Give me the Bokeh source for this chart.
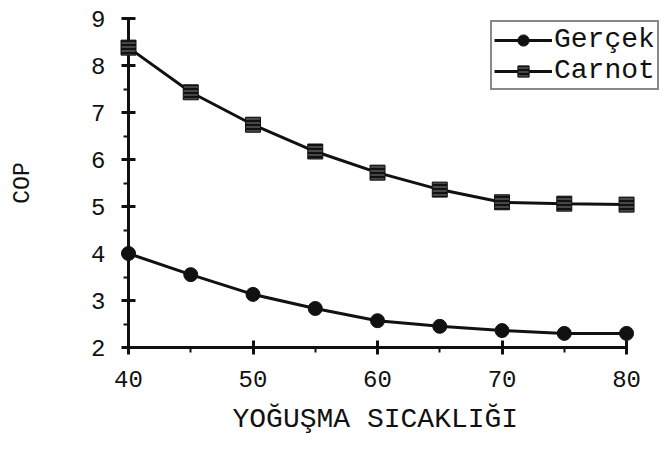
from bokeh.plotting import figure
from bokeh.models import Range1d, SingleIntervalTicker, Legend, LegendItem, Title
from bokeh.embed import file_html
from bokeh.resources import INLINE

# Data
temps = [40, 45, 50, 55, 60, 65, 70, 75, 80]
cop_gercek = [4.00, 3.55, 3.13, 2.83, 2.57, 2.45, 2.36, 2.30, 2.30]
cop_carnot = [8.38, 7.43, 6.74, 6.17, 5.72, 5.36, 5.09, 5.06, 5.04]
series_names = ["Gerçek", "Carnot"]
x_title = "YOĞUŞMA SICAKLIĞI"
y_title = "COP"

FONT = "Liberation Mono"
INK = "#111111"

# frame spans 128..670 px horizontally; x=40..80 occupies 128..626
p = figure(
    width=671, height=449,
    x_range=Range1d(40, 83.53), y_range=Range1d(2, 9),
    output_backend="svg", toolbar_location=None,
    min_border_left=128, min_border_right=1,
    min_border_top=18, min_border_bottom=102,
)
p.outline_line_color = None
p.grid.visible = False
p.background_fill_color = "white"
p.border_fill_color = "white"

# Axes
p.xaxis.ticker = SingleIntervalTicker(interval=10, num_minor_ticks=2)
p.yaxis.ticker = SingleIntervalTicker(interval=1, num_minor_ticks=2)
p.xaxis.bounds = (40, 80)
for ax in (p.xaxis, p.yaxis):
    ax.axis_line_width = 3
    ax.axis_line_color = INK
    ax.major_tick_line_width = 3
    ax.major_tick_line_color = INK
    ax.minor_tick_line_width = 2
    ax.minor_tick_line_color = INK
    ax.major_tick_in = 7
    ax.major_tick_out = 7
    ax.minor_tick_in = 0
    ax.minor_tick_out = 5
    ax.major_label_text_font = FONT
    ax.major_label_text_font_size = "24px"
    ax.major_label_text_color = INK
    ax.axis_label_text_font = FONT
    ax.axis_label_text_font_style = "normal"
    ax.axis_label_text_color = INK

p.xaxis.major_label_standoff = 16

p.yaxis.axis_label = y_title
p.yaxis.axis_label_text_font_size = "23px"
p.yaxis.major_label_standoff = 16
p.yaxis.axis_label_standoff = 52

# x-axis title placed under the 40..80 span (frame is wider for the legend)
xt = Title(text=x_title, align="left", offset=104, standoff=25,
           text_font=FONT, text_font_size="28px", text_font_style="normal",
           text_color=INK)
p.add_layout(xt, "below")

# Series
l1 = p.line(temps, cop_gercek, line_color=INK, line_width=3, level="overlay")
s1 = p.scatter(temps, cop_gercek, marker="circle", size=14, fill_color=INK,
               line_color=INK, line_width=1, level="overlay")
l2 = p.line(temps, cop_carnot, line_color=INK, line_width=3, level="overlay")
s2 = p.scatter(temps, cop_carnot, marker="square", size=15, fill_color=INK,
               line_color=INK, line_width=1, hatch_pattern="-", hatch_color="white",
               hatch_alpha=0.45, hatch_scale=4, hatch_weight=1, level="overlay")

legend = Legend(
    items=[LegendItem(label=series_names[0], renderers=[l1, s1]),
           LegendItem(label=series_names[1], renderers=[l2, s2])],
    location=(362, 257),
    border_line_color=INK, border_line_width=2,
    background_fill_color="white", background_fill_alpha=1,
    label_text_font=FONT, label_text_font_size="28px", label_text_color=INK,
    glyph_width=58, glyph_height=28, label_standoff=2,
    spacing=0, padding=2, margin=0,
)
p.add_layout(legend)

open("out.html", "w").write(file_html(p, INLINE))
